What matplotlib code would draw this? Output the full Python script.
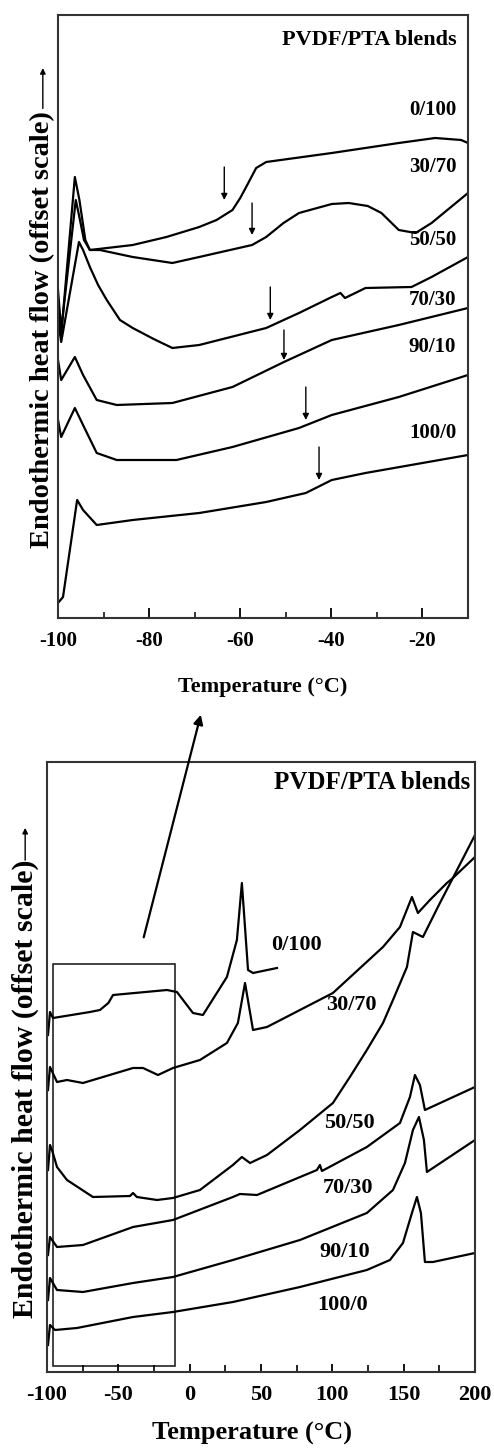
import matplotlib
matplotlib.use("Agg")
import matplotlib.pyplot as plt
from matplotlib.patches import Rectangle, FancyArrowPatch
from matplotlib.transforms import IdentityTransform

plt.rcParams["font.family"] = ["Liberation Serif", "DejaVu Serif"]
plt.rcParams["font.weight"] = "bold"
plt.rcParams["axes.unicode_minus"] = False

blends = ["0/100", "30/70", "50/50", "70/30", "90/10", "100/0"]

# ---- inset panel (-100 .. -10 C), heat flow in offset units ----
inset_0_100 = [(-100, 328), (-99.3, 288), (-96.1, 418), (-95.4, 403), (-94.3, 378),
               (-93.0, 368), (-83.6, 373), (-76.2, 381), (-69.0, 391), (-65.2, 398),
               (-61.7, 408), (-60.0, 420), (-58.7, 431), (-56.5, 450), (-54.3, 456),
               (-39.9, 465), (-25.2, 475), (-17.2, 480), (-11.5, 478), (-10, 475)]
inset_30_70 = [(-100, 318), (-99.3, 283), (-96.3, 441), (-95.3, 418), (-94.0, 378),
               (-93.0, 368), (-90.8, 368), (-83.6, 361), (-74.9, 355), (-69.0, 361),
               (-57.4, 373), (-54.3, 381), (-50.5, 395), (-47.1, 405), (-39.9, 414),
               (-36.2, 415), (-32.0, 412), (-29.0, 405), (-25.2, 388), (-21.5, 385),
               (-18.0, 395), (-10, 425)]
inset_50_50 = [(-100, 298), (-99.3, 276), (-95.4, 376), (-94.5, 368), (-93.0, 351),
               (-91.2, 333), (-89.3, 318), (-86.4, 298), (-83.6, 290), (-79.0, 279),
               (-74.9, 270), (-69.0, 273), (-54.3, 290), (-47.1, 305), (-39.9, 321),
               (-38.0, 325), (-37.0, 320), (-32.5, 330), (-22.4, 331), (-18.0, 341),
               (-10, 361)]
inset_70_30 = [(-100, 258), (-99.3, 238), (-96.3, 261), (-94.5, 243), (-91.5, 218),
               (-87.1, 213), (-74.9, 215), (-61.7, 231), (-50.4, 256), (-39.9, 278),
               (-25.2, 293), (-10, 310)]
inset_90_10 = [(-100, 198), (-99.3, 181), (-96.3, 210), (-94.5, 193), (-91.5, 165),
               (-87.1, 158), (-74.0, 158), (-61.7, 171), (-47.1, 190), (-39.9, 203),
               (-25.2, 221), (-10, 243)]
inset_100_0 = [(-100, 15), (-98.9, 21), (-95.8, 118), (-94.5, 108), (-91.5, 93),
               (-83.6, 98), (-69.0, 105), (-54.3, 116), (-45.6, 125), (-39.9, 138),
               (-32.5, 145), (-10, 163)]
inset_curves = [inset_0_100, inset_30_70, inset_50_50, inset_70_30, inset_90_10, inset_100_0]

# Tg arrows: (temperature, arrow tail, arrow head)
inset_tg = [(-63.5, 451, 418), (-57.4, 415, 383), (-53.4, 331, 298),
            (-50.4, 288, 258), (-45.6, 231, 198), (-42.7, 171, 138)]
inset_label_y = [508, 451, 378, 318, 271, 185]

# ---- full range panel (-100 .. 200 C) ----
full_0_100 = [(-99.3, 337), (-97.9, 360), (-95.8, 354), (-69.9, 360), (-62.9, 362),
              (-57.0, 369), (-53.7, 377), (-15.9, 382), (-8.9, 380), (2.3, 359),
              (9.3, 357), (26.1, 395), (33.1, 432), (36.6, 489), (40.9, 402),
              (44.4, 399), (61.2, 404)]
full_30_70 = [(-99.3, 282), (-97.9, 305), (-93.0, 290), (-86.0, 292), (-74.8, 289),
              (-39.7, 304), (-32.7, 304), (-22.2, 297), (-11.7, 304), (7.2, 312),
              (26.1, 329), (33.8, 349), (38.8, 389), (44.4, 342), (54.2, 345),
              (100.4, 379), (135.5, 425), (147.4, 445), (155.8, 475), (160.0, 459),
              (168.4, 472), (180.3, 489), (184.5, 494), (200, 515)]
full_50_50 = [(-99.3, 202), (-97.9, 227), (-96.5, 222), (-93.0, 205), (-86.0, 192),
              (-67.8, 175), (-41.8, 176), (-39.7, 179), (-37.0, 175), (-22.9, 172),
              (-11.7, 174), (7.2, 182), (30.3, 207), (36.6, 215), (42.3, 209),
              (54.2, 217), (77.3, 242), (100.4, 269), (112.3, 295), (124.2, 322),
              (135.5, 349), (142.5, 372), (152.3, 405), (156.5, 440), (163.5, 435),
              (175.4, 469), (184.5, 494), (200, 537)]
full_70_30 = [(-99.3, 117), (-97.9, 135), (-93.0, 125), (-74.8, 127), (-39.7, 145),
              (-11.7, 152), (30.3, 175), (35.2, 178), (47.2, 177), (89.2, 202),
              (91.3, 207), (92.7, 201), (124.2, 225), (147.4, 249), (154.4, 275),
              (157.9, 297), (161.4, 287), (164.9, 262), (200, 285)]
full_90_10 = [(-99.3, 72), (-97.9, 94), (-93.0, 82), (-74.8, 80), (-39.7, 89),
              (-11.7, 95), (30.3, 112), (77.3, 132), (124.2, 159), (142.5, 182),
              (150.9, 209), (156.5, 242), (160.7, 255), (164.2, 232), (166.3, 200),
              (200, 232)]
full_100_0 = [(-99.3, 27), (-97.9, 47), (-94.4, 42), (-79.0, 44), (-39.7, 55),
              (-11.7, 60), (30.3, 70), (77.3, 85), (124.2, 102), (140.4, 112),
              (149.5, 129), (155.8, 159), (159.3, 175), (162.1, 159), (164.9, 110),
              (170.5, 110), (200, 119)]
full_curves = [full_0_100, full_30_70, full_50_50, full_70_30, full_90_10, full_100_0]
full_label_pos = [(74.5, 427), (113, 367), (111.6, 249), (111, 184), (108.8, 120), (107.4, 67)]

zoom_window = (-96, -10, 6, 408)   # T0, T1, y0, y1 of the inset region
zoom_arrow_tail = (-32.7, 432)
zoom_arrow_head = (-68.5, -94)

fig = plt.figure(figsize=(4.94, 14.48), dpi=100)
ax1 = fig.add_axes([58 / 494, 1 - 618 / 1448, 410 / 494, 603 / 1448])
ax2 = fig.add_axes([47 / 494, 1 - 1372 / 1448, 428 / 494, 610 / 1448])

# top (inset) panel
for pts in inset_curves:
    ax1.plot([p[0] for p in pts], [p[1] for p in pts], color="black", lw=1.6,
             solid_joinstyle="round")
for t, y0, y1 in inset_tg:
    ax1.annotate("", xy=(t, y1), xytext=(t, y0),
                 arrowprops=dict(arrowstyle="-|>", color="black", lw=1.0,
                                 mutation_scale=9, shrinkA=0, shrinkB=0))
for name, y in zip(blends, inset_label_y):
    ax1.text(-12.6, y, name, ha="right", va="center", fontsize=15, fontweight="bold")
ax1.text(-12.6, 578, "PVDF/PTA blends", ha="right", va="center", fontsize=16, fontweight="bold")
ax1.set_xlim(-100, -10)
ax1.set_ylim(0, 603)
ax1.set_xticks([-100, -80, -60, -40, -20])
ax1.set_xticks([-90, -70, -50, -30], minor=True)
ax1.set_yticks([])
ax1.tick_params(axis="x", which="major", direction="in", length=7, width=1.3,
                labelsize=15, pad=9)
ax1.tick_params(axis="x", which="minor", direction="in", length=4, width=1.1)
ax1.set_xlabel("Temperature (°C)", fontsize=16, fontweight="bold", va="center")
ax1.xaxis.set_label_coords(0.5, -0.114)
ax1.set_ylabel("Endothermic heat flow (offset scale)", fontsize=20.5, fontweight="bold",
               va="center", ha="center")
ax1.yaxis.set_label_coords(-0.037, 0.4776)
ax1.annotate("", xy=(-0.037, 0.912), xytext=(-0.037, 0.845), xycoords="axes fraction",
             arrowprops=dict(arrowstyle="-|>", color="black", lw=1.0, mutation_scale=8,
                             shrinkA=0, shrinkB=0), annotation_clip=False)
for s in ax1.spines.values():
    s.set_linewidth(1.5)
    s.set_color("#333333")

# bottom (full range) panel
for pts in full_curves:
    ax2.plot([p[0] for p in pts], [p[1] for p in pts], color="black", lw=1.6,
             solid_joinstyle="round")
for name, (t, y) in zip(blends, full_label_pos):
    ax2.text(t, y, name, ha="center", va="center", fontsize=16, fontweight="bold")
ax2.text(0.988, 0.9656, "PVDF/PTA blends", transform=ax2.transAxes, ha="right",
         va="center", fontsize=18, fontweight="bold")
t0, t1, y0, y1 = zoom_window
ax2.add_patch(Rectangle((t0, y0), t1 - t0, y1 - y0, fill=False, lw=1.2, edgecolor="#222222"))
ax2.set_xlim(-100, 200)
ax2.set_ylim(0, 610)
ax2.set_xticks([-100, -50, 0, 50, 100, 150, 200])
ax2.set_xticks([-75, -25, 25, 75, 125, 175], minor=True)
ax2.set_yticks([])
ax2.tick_params(axis="x", which="major", direction="in", length=6, width=1.3,
                labelsize=16, pad=9)
ax2.tick_params(axis="x", which="minor", direction="in", length=5, width=1.2)
ax2.set_xlabel("Temperature (°C)", fontsize=19, fontweight="bold", va="center")
ax2.xaxis.set_label_coords(0.48, -0.100)
ax2.set_ylabel("Endothermic heat flow (offset scale)", fontsize=21.5, fontweight="bold",
               va="center", ha="center")
ax2.yaxis.set_label_coords(-0.051, 0.464)
ax2.annotate("", xy=(-0.051, 0.892), xytext=(-0.051, 0.839), xycoords="axes fraction",
             arrowprops=dict(arrowstyle="-|>", color="black", lw=1.0, mutation_scale=8,
                             shrinkA=0, shrinkB=0), annotation_clip=False)
for s in ax2.spines.values():
    s.set_linewidth(1.5)
    s.set_color("#333333")

# arrow from the zoom window up to the inset panel
fig.canvas.draw()
zoom_link = FancyArrowPatch(posA=ax2.transData.transform(zoom_arrow_tail),
                            posB=ax1.transData.transform(zoom_arrow_head),
                            arrowstyle="-|>", mutation_scale=14, lw=1.6, color="black")
zoom_link.set_transform(IdentityTransform())
fig.patches.append(zoom_link)

fig.savefig("out.png", dpi=100)
